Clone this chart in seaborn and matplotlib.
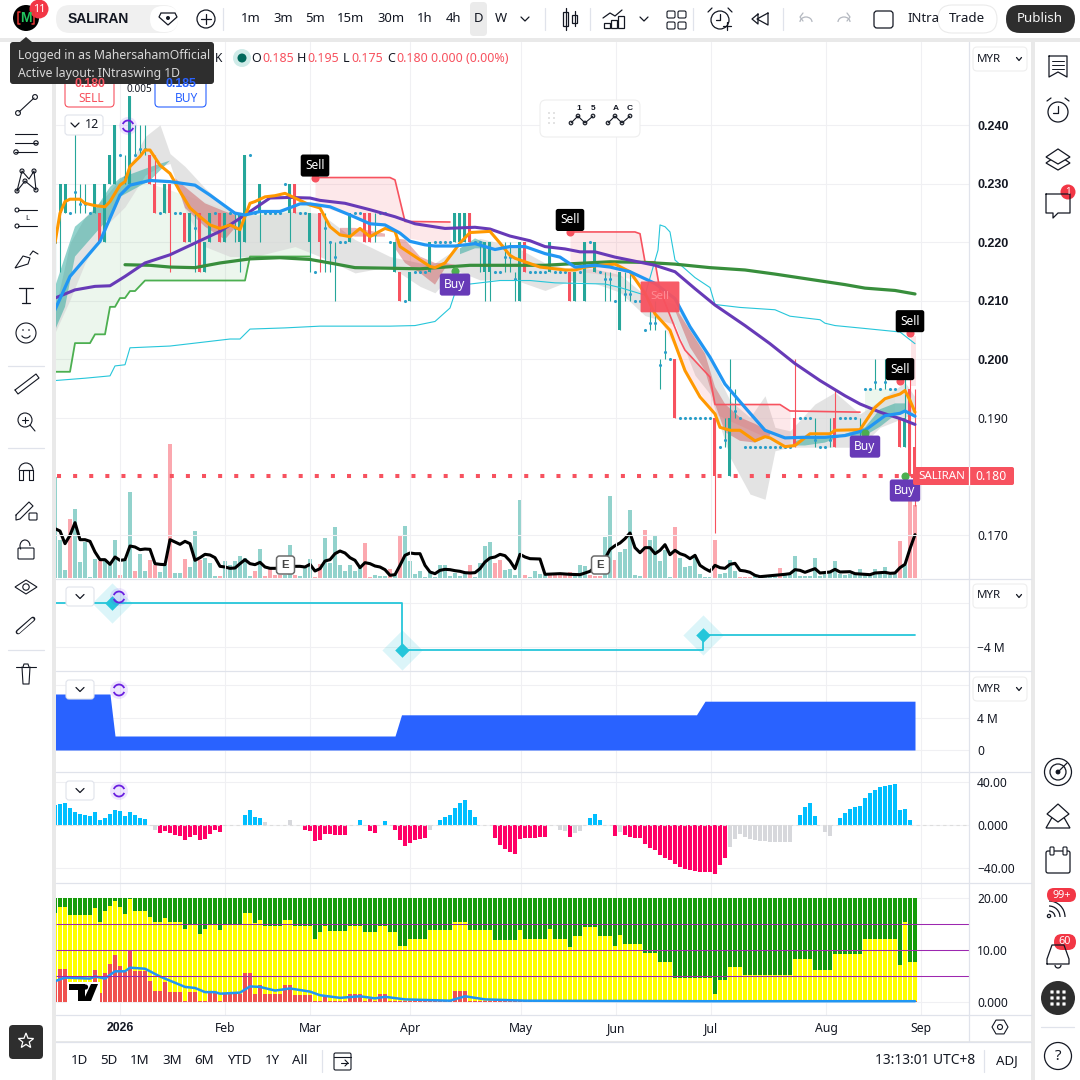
import numpy as np
import pandas as pd
import matplotlib
matplotlib.use("Agg")
import matplotlib.pyplot as plt
from matplotlib.patches import Circle, FancyBboxPatch, Arc, Polygon, Rectangle
import seaborn as sns

# ---- price bars, one entry per daily bar (0.. 172) ----
opens = [
    .22, .225, .225, .225, .2287, .2265, .2265, .225, .225, .225,
    .22, .23, .23, .235, .2312, .23, .235, .236, .236, .235,
    .23, .225, .225, .23, .225, .225, .225, .22, .2225, .225,
    .215, .22, .225, .225, .22, .225, .2225, .22, .22, .235,
    .225, .225, .225, .225, .225, .225, .23, .225, .23, .225,
    .225, .22, .215, .225, .2225, .22, .2175, .22, .22, .22,
    .225, .225, .225, .225, .2215, .225, .225, .22, .215, .215,
    .21, .21, .215, .215, .215, .215, .22, .22, .22, .22,
    .22, .22, .22, .225, .22, .22, .215, .215, .215, .215,
    .2175, .2175, .2137, .21, .22, .215, .215, .215, .215, .215,
    .215, .215, .215, .215, .21, .215, .21, .22, .215, .215,
    .2137, .2137, .21, .205, .2112, .2112, .21, .21, .205, .2062,
    .2062, .199, .2013, .20, .20, .19, .19, .19, .19, .19,
    .19, .19, .19, .185, .1862, .18, .1912, .19, .185, .185,
    .185, .185, .185, .185, .185, .185, .185, .185, .19, .19,
    .19, .19, .1862, .185, .185, .1862, .19, .19, .19, .19,
    .19, .1862, .195, .195, .1961, .195, .1961, .195, .195, .19, .185, .195, .185]
highs = [
    .225, .23, .23, .225, .2385, .23, .23, .225, .23, .225,
    .23, .235, .24, .235, .235, .245, .24, .24, .24, .235,
    .235, .225, .23, .23, .225, .225, .225, .225, .225, .225,
    .22, .225, .225, .225, .225, .225, .225, .225, .235, .235,
    .225, .23, .225, .225, .225, .225, .23, .23, .23, .225,
    .225, .225, .215, .225, .225, .22, .22, .22, .22, .225,
    .225, .225, .225, .225, .225, .225, .225, .22, .22, .215,
    .21, .215, .215, .215, .215, .22, .22, .22, .22, .22,
    .225, .225, .225, .225, .22, .22, .22, .22, .215, .215,
    .22, .22, .215, .22, .22, .215, .215, .215, .215, .22,
    .215, .215, .215, .215, .215, .215, .22, .22, .22, .215,
    .215, .215, .21, .215, .215, .215, .21, .21, .205, .21,
    .21, .20, .205, .20, .20, .19, .19, .19, .19, .19,
    .19, .19, .19, .185, .19, .20, .195, .19, .185, .185,
    .185, .185, .185, .185, .185, .185, .185, .185, .20, .19,
    .19, .19, .19, .185, .185, .19, .195, .19, .19, .19,
    .19, .19, .195, .195, .20, .195, .20, .195, .195, .19, .20, .20, .195]
lows = [
    .2065, .215, .225, .225, .225, .225, .225, .225, .225, .22,
    .22, .23, .23, .235, .23, .23, .235, .235, .235, .23,
    .225, .225, .225, .215, .225, .225, .22, .22, .215, .215,
    .215, .22, .225, .22, .22, .225, .22, .215, .22, .235,
    .225, .22, .225, .225, .225, .225, .23, .22, .225, .225,
    .225, .215, .215, .215, .215, .215, .21, .22, .22, .22,
    .225, .225, .22, .22, .22, .225, .225, .22, .215, .21,
    .21, .21, .215, .215, .215, .215, .22, .22, .22, .22,
    .22, .22, .22, .22, .22, .215, .21, .21, .215, .215,
    .215, .215, .21, .21, .215, .215, .215, .215, .215, .215,
    .215, .215, .215, .21, .21, .215, .21, .22, .215, .215,
    .21, .21, .21, .205, .21, .21, .21, .21, .205, .205,
    .205, .195, .20, .20, .19, .19, .19, .19, .19, .19,
    .19, .19, .1703, .185, .185, .18, .19, .19, .185, .185,
    .185, .185, .185, .185, .185, .185, .185, .185, .185, .19,
    .19, .19, .185, .185, .185, .185, .185, .19, .19, .19,
    .19, .185, .195, .195, .195, .195, .195, .195, .195, .185, .185, .18, .175]
closes = [
    .22, .23, .23, .225, .2287, .2265, .2265, .225, .23, .22,
    .23, .235, .24, .235, .2312, .245, .235, .236, .236, .23,
    .225, .225, .23, .225, .225, .225, .22, .225, .2225, .215,
    .22, .225, .225, .22, .225, .225, .2225, .225, .235, .235,
    .225, .23, .225, .225, .225, .225, .23, .23, .225, .225,
    .225, .225, .215, .22, .2225, .22, .2175, .22, .22, .225,
    .225, .225, .22, .22, .2215, .225, .225, .22, .22, .21,
    .21, .215, .215, .215, .215, .22, .22, .22, .22, .22,
    .225, .225, .225, .22, .22, .22, .22, .22, .215, .215,
    .2175, .2175, .2137, .22, .215, .215, .215, .215, .215, .22,
    .215, .215, .215, .21, .215, .215, .22, .22, .22, .215,
    .2137, .2137, .21, .215, .2112, .2112, .21, .21, .205, .2062,
    .2062, .199, .2013, .20, .19, .19, .19, .19, .19, .19,
    .19, .19, .18, .185, .1862, .19, .1912, .19, .185, .185,
    .185, .185, .185, .185, .185, .185, .185, .185, .185, .19,
    .19, .19, .1862, .185, .185, .1862, .185, .19, .19, .19,
    .19, .1862, .195, .195, .1961, .195, .1961, .195, .195, .185, .19, .18, .18]

# volume and its average (same arbitrary unit)
volume = [
    303, 113, 23, 178, 208, 47, 108, 3, 58, 51,
    55, 38, 113, 8, 53, 258, 20, 71, 20, 53,
    38, 17, 43, 401, 15, 15, 56, 33, 140, 53,
    60, 44, 5, 5, 50, 38, 50, 65, 60, 5,
    20, 86, 5, 28, 8, 8, 8, 98, 8, 5,
    33, 56, 2, 41, 119, 45, 152, 38, 20, 38,
    20, 30, 104, 2, 8, 5, 5, 26, 8, 125,
    155, 50, 11, 20, 2, 20, 2, 38, 38, 5,
    15, 5, 15, 38, 2, 44, 95, 107, 44, 53,
    23, 26, 10, 233, 8, 2, 20, 13, 10, 8,
    8, 8, 10, 17, 8, 38, 35, 8, 5, 5,
    122, 245, 53, 77, 86, 203, 8, 5, 143, 115,
    128, 50, 83, 2, 152, 59, 32, 35, 68, 13,
    2, 2, 113, 11, 14, 53, 20, 2, 2, 2,
    5, 2, 2, 2, 5, 29, 11, 8, 65, 5,
    5, 5, 60, 5, 11, 20, 50, 11, 8, 11,
    14, 26, 11, 11, 26, 11, 32, 8, 11, 110, 38, 263, 218]
# bars of the volume histogram that are red in the picture
volume_red = [3, 9, 13, 16, 19, 20, 23, 26, 29, 33, 40, 42, 43, 44, 45, 48, 52, 53, 62, 63, 67, 69, 83, 88, 89, 94, 99, 100, 101,
              102, 103, 107, 108, 109, 112, 118, 124, 132, 137, 138, 139, 145, 169, 171, 172]
vol_ma_bar = [0, 1, 2, 3, 4, 5, 6, 7, 8, 9, 10, 11, 12, 13, 14, 15, 16, 17, 18, 19, 20, 21, 22, 23, 24, 25, 26, 27, 28, 29,
              30, 31, 32, 33, 34, 35, 36, 37, 38, 39, 40, 41, 42, 43, 44, 48, 49, 50, 51, 52, 53, 54, 55, 56, 57, 58, 59,
              60, 61, 62, 63, 64, 65, 66, 67, 68, 69, 70, 71, 72, 73, 74, 75, 76, 77, 78, 79, 80, 81, 82, 83, 84, 85, 86,
              87, 88, 89, 90, 91, 92, 93, 94, 95, 97, 98, 101, 103, 105, 107, 110, 111, 112, 113, 114, 115, 116, 117, 118,
              119, 120, 121, 122, 123, 124, 125, 126, 127, 128, 129, 130, 131, 132, 133, 134, 135, 136, 137, 138, 139, 140,
              141, 146, 147, 148, 149, 150, 152, 153, 155, 156, 157, 159, 160, 163, 164, 166, 167, 168, 169, 170, 171, 172]
vol_ma = [148, 141, 103, 128, 166, 115, 115, 110, 78, 55, 55, 41, 63, 53, 55, 96, 93, 85, 87, 86, 43, 41, 40, 115, 108, 101, 110, 103, 53, 61,
          71, 69, 61, 35, 33, 29, 30, 43, 55, 43, 40, 47, 33, 29, 29, 35, 35, 33, 41, 21, 28, 51, 55, 73, 81, 75, 61, 53, 31, 46,
          43, 36, 33, 25, 8, 10, 38, 68, 75, 73, 73, 38, 18, 13, 23, 26, 25, 22, 20, 16, 15, 16, 28, 48, 60, 63, 71, 67, 51,
          28, 71, 63, 58, 57, 11, 13, 11, 10, 20, 58, 86, 97, 105, 118, 135, 91, 76, 91, 91, 73, 83, 100, 70, 83, 73, 68, 58,
          68, 38, 28, 20, 38, 31, 29, 41, 44, 23, 21, 17, 8, 4, 11, 13, 25, 23, 17, 28, 15, 18, 26, 18, 19, 13, 10, 15, 17, 14, 15, 31, 41, 88, 130]

# overlay lines, (bar, price) points
orange_bar = [0, 1, 2, 3, 5, 6, 8, 10, 11, 13, 14, 15, 17, 18, 19, 21, 23, 25, 27, 29, 31, 33, 35, 37, 39, 40, 42, 44, 46, 48, 51, 53, 55, 57, 59, 61, 63, 66, 68, 69, 72, 75, 76, 78, 81, 83, 87, 89, 91,
              92, 94, 97, 100, 102, 104, 106, 109, 112, 115, 118, 120, 123, 126, 129, 132, 133, 135, 137, 140, 142, 143, 146, 148, 151, 155, 156, 161, 164, 166, 169, 170, 171, 172]
orange = [.2199, .2250, .2270, .2274, .2274, .2267, .2263, .2261, .2270, .2298, .2304, .2330, .2347, .2358, .2358, .2332, .2318, .2287, .2259, .2244, .2230, .2224, .2230, .2222, .2267, .2270, .2278, .2280, .2284, .2276, .2264, .2259, .2227, .2213, .2210, .2224, .2210, .2224, .2219, .2193, .2176, .2159, .2157, .2165, .2199, .2217, .2219, .2199, .2178,
          .2173, .2167, .2158, .2155, .2153, .2153, .2158, .2161, .2163, .2150, .2113, .2078, .2050, .1981, .1936, .1907, .1884, .1879, .1879, .1861, .1868, .1866, .1851, .1853, .1873, .1873, .1879, .1880, .1918, .1933, .1941, .1947, .1930, .1910]
blue_bar = [0, 3, 9, 13, 15, 19, 23, 28, 31, 36, 38, 41, 45, 49, 51, 55, 59, 63, 66, 69, 71, 74, 76, 80, 84, 88, 91, 94, 98, 101, 104, 108, 111, 115, 120, 124, 127, 131, 134, 138, 142, 146, 150, 154, 158, 162, 166, 169, 170, 172]
blue = [.2085, .2142, .2202, .2281, .2298, .2306, .2304, .2298, .2281, .2250, .2247, .2253, .2253, .2266, .2266, .2261, .2247, .2232, .2230, .2216, .2202, .2196, .2194, .2194, .2198, .2188, .2193, .2193, .2181, .2175, .2158, .2161, .2158, .2150, .2130, .2104, .2056, .2004, .1958, .1918, .1879, .1866, .1867, .1867, .1870, .1879, .1904, .1908, .1912, .1903]
purple_bar = [0, 4, 8, 11, 14, 18, 23, 28, 33, 38, 43, 47, 51, 53, 58, 63, 68, 72, 78, 84, 87, 91, 95, 98, 102, 105, 108, 112, 116, 120, 124, 128, 132, 138, 143, 148, 153, 158, 161, 165, 169, 172]
purple = [.2105, .2119, .2125, .2126, .2142, .2165, .2179, .2199, .2219, .2247, .2276, .2277, .2276, .2272, .2267, .2256, .2244, .2232, .2224, .2226, .2223, .2211, .2203, .2193, .2189, .2184, .2184, .2175, .2168, .2161, .2150, .2121, .2093, .2058, .2027, .1993, .1964, .1938, .1924, .1910, .1899, .1889]
ma200_bar = [14, 19, 23, 28, 33, 39, 45, 51, 55, 60, 67, 73, 83, 91, 98, 104, 111, 118, 124, 131, 138, 144, 151, 158, 162, 168, 172]
ma200 = [.2162, .2161, .2158, .2157, .2165, .2172, .2174, .2171, .2165, .2157, .2156, .2155, .2161, .2161, .2161, .2164, .2167, .2166, .2163, .2157, .2153, .2146, .2137, .2128, .2122, .2118, .2112]
band_bar = [0, 6, 11, 12, 14, 15, 23, 25, 35, 37, 39, 46, 53, 67, 72, 76, 79, 80, 83, 89, 95, 100, 110, 113, 118, 120.6, 121, 122, 123, 124, 128, 131, 132, 137, 144, 147, 153, 154, 156, 162, 169, 172]
band = [.1964, .1968, .1972, .1989, .1991, .2020, .2023, .2025, .2035, .2035, .2052, .2054, .2057, .2057, .2058, .2065, .2088, .2114, .2129, .2135, .2135, .2131, .2129, .2123, .2110, .2187, .2230, .2227, .2218, .2170, .2140, .2123, .2094, .2089, .2085, .2074, .2068, .2062, .2058, .2053, .2047, .2027]
stop_bar = [0, 3, 4, 7, 8, 10, 11, 12, 13, 14, 15, 16, 18, 38, 39, 51]
stop = [.1979, .1979, .2028, .2028, .2043, .2043, .2090, .2090, .2105, .2105, .2117, .2117, .2135, .2135, .2176, .2176]
trail1_bar = [52, 67, 68, 70, 79]
trail1 = [.2311, .2311, .2307, .2236, .2235]
trail2_bar = [103, 116, 117, 118, 120, 121, 125, 126, 131, 132, 145, 147, 161]
trail2 = [.2218, .2218, .2215, .2167, .2167, .2118, .2033, .2016, .1970, .1923, .1923, .1912, .1910]

# clouds, nan splits one patch from the next
grey_bar = [0, 3, 6, 10, 14, 18, 21, 23, 26, 30, 35, 40, 48, 53, 60, 67, 73, 76, 80, 85, 92, 98, 103, 108, 113, 118, 124, 128, 131, 135, 139, 142, 144, 147, 152, 156, 161, 165, 170, 172]
grey_top = [.2085, .2199, .2244, .2278, .2318, .2381, .2401, .2352, .2330, .2293, .2256, .2247, .2253, .2250, .2205, .2176, .2165, .2165, .2188, .2207, .2193, .2165, .2155, .2155, .2145, .2110, .2095, .2041, .2000, .1930, .1901, .1938, .1884, .1878, .1924, .1944, .1907, .1930, .1961, .1936]
grey_bot = [.2046, .2102, .2165, .2227, .2261, .2315, .2330, .2335, .2256, .2193, .2176, .2176, .2193, .2176, .2148, .2159, .2125, .2114, .2153, .2136, .2136, .2118, .2135, .2130, .2115, .2075, .2060, .1973, .1941, .1833, .1770, .1761, .1844, .1850, .1850, .1850, .1850, .1884, .1901, .1907]
teal_bar = [0, 2, 4, 8, 11, 13, 19, 23, np.nan, 81, 84, 86, np.nan, 148, 150, 154, 157, 162, 165, 168, 170]
teal_top = [.2124, .2176, .2227, .2256, .2295, .2310, .2329, .2340, np.nan, .2190, .2207, .2200, np.nan, .1860, .1867, .1867, .1870, .1884, .1915, .1925, .1925]
teal_bot = [.2050, .2090, .2176, .2215, .2244, .2278, .2306, .2340, np.nan, .2180, .2190, .2190, np.nan, .1853, .1853, .1858, .1868, .1870, .1885, .1905, .1912]
rose_bar = [24, 26, 30, 34, 36, np.nan, 57, 60, 66, np.nan, 68, 70, 73, 76, 78, 80, np.nan, 124, 127, 130, 132, 134, 137, 140, 143]
rose_top = [.2310, .2295, .2267, .2253, .2247, np.nan, .2225, .2225, .2215, np.nan, .2207, .2205, .2176, .2165, .2165, .2162, np.nan, .2090, .2050, .2010, .1953, .1924, .1901, .1890, .1876]
rose_bot = [.2310, .2259, .2227, .2205, .2225, np.nan, .2213, .2210, .2210, np.nan, .2190, .2165, .2148, .2128, .2156, .2162, np.nan, .2084, .2021, .1981, .1924, .1876, .1861, .1858, .1870]

sell_bar = [52, 103, 171, 169]
sell_price = [.2311, .2218, .2045, .1963]
buy_bar = [80, 162, 170]
buy_price = [.2152, .1875, .1800]
earnings_bar = [46, 109]
last_price = 0.180

# lower panes
flow_bar = [0, 69.4, 129.7, 172]
flow = [-0.25, -4.25, -3.0, -3.0]
flow_marks = [11.4, 69.4, 129.7]
flow_mark_vals = [-0.25, -4.25, -3.0]
area_bar = [0, 11, 12, 68, 69.3, 128.3, 130, 172]
area = [7.0, 7.0, 1.75, 1.75, 4.4, 4.4, 6.1, 6.1]

momentum = [
    18.6, 20, 20.8, 16, 12.4, 10.5, 9.3, 8.7, 12.4, 5,
    6.8, 10.5, 14.3, 13.3, 8.7, 12.4, 9.6, 6.8, 5.9, 0,
    -4.5, -7, -5.3, -7, -9, -10, -13.6, -10.9, -9, -13.6,
    -12.7, -8, -4.3, -6.2, 0, 0, 0, 0, 9.6, 14.3,
    7.8, 6.8, 3, 0, 0, 0, 0, 5, 0, 0,
    -4.3, -5.3, -14.6, -13.6, -8, -8, -9, -9, -9, 0,
    0, 5, 0, -5.3, -7, 0, 4, 0, -4.3, -13.6,
    -19.2, -16.4, -13.6, -12.7, -11.8, -4.3, 0, 5, 7.8, 9.6,
    16, 20.8, 23.6, 14.3, 7.8, 0, 0, 0, -11.8, -18.3,
    -22, -24.8, -26.7, -12.7, -12.4, -12.4, -11.8, -11.5, -11.5, 0,
    0, -5, -5.9, -11.5, -7.8, -5.9, 0, 7, 9.9, 4.3,
    0, 0, -10.5, -6.8, -9.6, -11.5, -12.4, -12.4, -18, -21.7,
    -23.6, -28.2, -31, -32.9, -36.6, -39.4, -41.2, -42.2, -42.8, -44,
    -44, -44, -45.9, -37.5, -31, -20.8, -13.3, -8.7, -11.5, -13.3,
    -14.3, -15.2, -15.2, -16, -16, -16, -16, -16, 0, 9,
    16.4, 20.2, 8, 0, -6.8, -10.5, 0, 7, 10.9, 14.6,
    16.4, 17.4, 24.8, 29.5, 32.2, 35, 36, 36.9, 37.8, 13.6, 14.6, 4.3, 0]
momentum_grey = [20, 42, 47, 75, 101, 102, 104, 105, 113, 135, 136, 137, 138, 139, 140, 141, 142, 143, 144, 145, 146, 147, 154, 155]

yellow_level = [
    17.2, 18.2, 18.2, 16.8, 16.8, 16.8, 16.8, 16.8, 18, 15.4,
    17.5, 18.4, 19.4, 18.3, 17, 19.8, 17.5, 17.5, 17.5, 16.4,
    15.3, 15.3, 16.2, 15.3, 15.3, 15.3, 14.1, 14.9, 14.9, 13,
    14.1, 14.9, 14.9, 13.9, 14.9, 14.9, 14.9, 14.9, 17.1, 17.1,
    15.1, 15.8, 14.7, 14.7, 14.7, 14.7, 15.8, 15.8, 14.7, 14.7,
    14.7, 14.7, 12.2, 13.4, 14.7, 13.6, 13.6, 13.6, 13.6, 14.7,
    14.7, 14.7, 13.4, 13.4, 13.4, 14.7, 14.7, 13.4, 13.4, 10.7,
    10.7, 12.2, 12.2, 12.2, 12.2, 13.8, 13.8, 13.8, 13.8, 13.8,
    15.3, 15.3, 15.3, 13.8, 13.8, 13.8, 13.8, 13.8, 12, 12,
    12, 12, 12, 13.9, 12.2, 12.2, 12.2, 12.2, 12.2, 14.1,
    12.2, 12.2, 12.2, 10.5, 12.6, 12.6, 14.5, 14.5, 14.5, 12.6,
    12.6, 12.6, 10.7, 12.8, 11.1, 11.1, 11.1, 11.1, 9.4, 9.4,
    9.4, 7.7, 7.7, 7.7, 4.7, 4.7, 4.7, 4.7, 4.7, 4.7,
    4.7, 4.7, 1.6, 4.3, 4.3, 6.7, 6.7, 6.7, 5.2, 5.2,
    5.2, 5.2, 5.2, 5.2, 5.2, 5.2, 5.2, 5.2, 8.2, 8.2,
    8.2, 8.2, 6.2, 6.2, 6.2, 6.2, 9.2, 9.2, 9.2, 9.2,
    9.2, 9.2, 12.2, 12.2, 12.2, 12.2, 12.2, 12.2, 12.2, 7.1, 15.3, 7.7, 7.7]
red_level = [
    4, 6.4, 6.4, 2.7, 2.7, 2.7, 2.7, 2.7, 6.2, 1.8,
    5.6, 7.3, 9, 6.9, 5.8, 10, 6, 6, 6, 4.1,
    2.2, 2.2, 3.9, 2, 2, 2, .1, 2, 2, .1,
    .1, 1.8, 1.8, .1, 1.5, 1.6, 1.6, 1.6, 5.6, 5.6,
    1.6, 3.3, 1.5, 1.5, 1.5, 1.5, 3.3, 3.3, 1.3, 1.3,
    1.3, 1.3, .1, .1, 1.3, .1, .1, .1, .1, 1.5,
    1.5, 1.5, .1, .5, .1, 1.5, 1.5, .1, .1, .1,
    .1, .1, .1, .1, .1, .1, .1, .1, .1, .1,
    2.2, 2.2, 2.2, .1, .1, .1, .1, .1, .1, .1] + [.1] * 83
trend_bar = [0, 2, 7, 8, 10, 12, 14, 15, 18, 21, 23, 26, 28, 30, 32, 33, 37, 39, 41, 44, 47, 51, 53, 57, 61, 64, 66, 70, 79, 82, 86, 94, 130, 172]
trend = [4, 4.7, 4.5, 4.9, 4.5, 5.9, 5.9, 6.6, 6.4, 4.9, 4.1, 2.9, 2.7, 1.9, 1.9, 1.6, 1.8, 3, 2.9, 2.2, 2.6, 2, 1.3, .8, 1.1, .7, 1, .5, .25, 1.1, .5, .25, .15, .15]

month_bar = [13.1, 34.1, 51.1, 71.1, 93.2, 112.2, 131.2, 154.2, 173.2]
month_label = ["2026", "Feb", "Mar", "Apr", "May", "Jun", "Jul", "Aug", "Sep"]
price_ticks = [.17, .19, .20, .21, .22, .23, .24]

INK = "#131722"
GRID = "#f0f0f3"
UP = "#26a69a"
DOWN = "#f7525f"
BOLD_FONT = "Liberation Sans"  # the Noto Sans install has no separate bold face
BARS = np.arange(173)

sns.set_theme(style="white")
plt.rcParams["font.family"] = ["Noto Sans", "DejaVu Sans"]

fig = plt.figure(figsize=(10.8, 10.8), dpi=100, facecolor="#e9e9e9")


def pane(y0, y1, z=2):
    # pane rectangle given in picture pixels
    return fig.add_axes([56 / 1080, 1 - y1 / 1080, 913 / 1080, (y1 - y0) / 1080], zorder=z)


def bars(ax, x, y, colors, width):
    df = pd.DataFrame({"bar": x, "value": y, "kind": colors})
    sns.barplot(data=df, x="bar", y="value", hue="kind", palette={c: c for c in set(colors)},
                native_scale=True, dodge=False, legend=False, width=width, saturation=1,
                errorbar=None, linewidth=0, ax=ax)


def line(ax, x, y, color, lw, z=3):
    sns.lineplot(x=x, y=y, color=color, linewidth=lw, estimator=None, sort=False, ax=ax, zorder=z)


def finish(ax, ylim, ticks=(), labels=None):
    ax.set_xlim(0.2, 182.8)
    ax.set_ylim(*ylim)
    ax.set_xlabel("")
    ax.set_ylabel("")
    ax.set_xticks(month_bar)
    ax.set_xticklabels([])
    ax.yaxis.tick_right()
    ax.set_yticks(list(ticks))
    if labels is not None:
        ax.set_yticklabels(labels)
    ax.tick_params(length=0, pad=5.9, labelsize=8.6, labelcolor=INK)
    ax.grid(True, color=GRID, lw=0.8)
    ax.set_axisbelow(True)
    for s in ax.spines.values():
        s.set_visible(False)


# white page behind the panes
bg = fig.add_axes([0, 0, 1, 1], zorder=0)
bg.set_xlim(0, 1080)
bg.set_ylim(1080, 0)
bg.axis("off")
for x0, y0, x1, y1 in [(0, 0, 1080, 38), (0, 42, 52, 1080), (56, 42, 1031, 1041), (56, 1043, 1031, 1080), (1035, 42, 1080, 1080)]:
    bg.add_patch(Rectangle((x0, y0), x1 - x0, y1 - y0, fc="white", ec="none"))

# ---- volume under the price pane ----
vol_ax = pane(42, 578, z=1)
vol_colors = ["#fba8af" if i in volume_red else "#92d2cc" for i in BARS]
bars(vol_ax, BARS, volume, vol_colors, 0.74)
line(vol_ax, vol_ma_bar, vol_ma, "#000000", 2.2)
finish(vol_ax, (0, 536 * 3))
vol_ax.grid(False)
vol_ax.set_yticks([])

# ---- price pane ----
ax = pane(42, 578, z=2)
ax.patch.set_visible(False)

blue_at = np.interp(stop_bar, blue_bar, blue)
ax.fill_between(stop_bar, stop, blue_at, color="#4caf50", alpha=0.10, lw=0, zorder=1)
ax.fill_between([162, 168], [.195, .195], [.1905, .1905], color="#4caf50", alpha=0.10, lw=0, zorder=1)
ax.fill_between(grey_bar, grey_top, grey_bot, color="#d9d9d9", alpha=0.72, lw=0, zorder=1.1)
ax.fill_between(trail1_bar, trail1, np.interp(trail1_bar, blue_bar, blue), color=DOWN, alpha=0.13, lw=0, zorder=1.2)
pink_x = [103, 116, 117, 118, 120, 121, 125, 126, 131, 132, 145, 147]
ax.fill_between(pink_x, np.interp(pink_x, trail2_bar, trail2), np.interp(pink_x, orange_bar, orange), color=DOWN, alpha=0.13, lw=0, zorder=1.2)
ax.fill_between([171.2, 172.3], [.2040, .2040], [.1955, .1955], color=DOWN, alpha=0.15, lw=0, zorder=1.2)
ax.fill_between(teal_bar, teal_top, teal_bot, color=UP, alpha=0.5, lw=0, zorder=1.3)
ax.fill_between(rose_bar, rose_top, rose_bot, color="#c8383c", alpha=0.38, lw=0, zorder=1.3)

ax.hlines(last_price, 0.3, 172, color=DOWN, lw=2.9, linestyles=[(0, (1, 3))], zorder=2.9)

o, h, l, c = map(np.array, (opens, highs, lows, closes))
rising = c >= o
ax.vlines(BARS, l, h, color=np.where(rising, UP, DOWN), lw=0.8, zorder=2)
solid = o != c
ax.bar(BARS[solid], np.abs(c - o)[solid], bottom=np.minimum(o, c)[solid], width=0.6,
       color=np.where(rising, UP, DOWN)[solid], lw=0, zorder=2.1)
ax.scatter(BARS[~solid], c[~solid], s=5, color="#2a9fc9", lw=0, zorder=2.2)

line(ax, band_bar, band, "#26c6da", 0.8, z=2.5)
line(ax, stop_bar, stop, "#4caf50", 1.3, z=2.6)
line(ax, trail1_bar, trail1, DOWN, 1.2, z=2.6)
line(ax, trail2_bar, trail2, DOWN, 1.2, z=2.6)
line(ax, ma200_bar, ma200, "#388e3c", 2.3, z=3)
line(ax, purple_bar, purple, "#673ab7", 2.2, z=3.1)
line(ax, orange_bar, orange, "#ff9800", 2.2, z=3.2)
line(ax, blue_bar, blue, "#2196f3", 2.3, z=3.3)

ax.scatter(sell_bar, sell_price, s=34, color=DOWN, lw=0, zorder=4)
ax.scatter(buy_bar, buy_price, s=34, color="#4caf50", lw=0, zorder=4)
for bx, py in zip(sell_bar, sell_price):
    ax.annotate("Sell", (bx, py), xytext=(0, 12), textcoords="offset pixels", ha="center", va="center", color="white",
                fontsize=8.6, zorder=5, annotation_clip=False,
                bbox=dict(boxstyle="round,pad=0.38,rounding_size=0.2", fc="black", ec="none"))
for bx, py in zip(buy_bar, buy_price):
    ax.annotate("Buy", (bx, py), xytext=(0, -14), textcoords="offset pixels", ha="center", va="center", color="white",
                fontsize=8.6, zorder=5, annotation_clip=False,
                bbox=dict(boxstyle="round,pad=0.38,rounding_size=0.2", fc="#673ab7", ec="none"))
ax.annotate("Sell", (121, .2107), ha="center", va="center", color="#ff8b93", fontsize=8.4, zorder=5,
            bbox=dict(boxstyle="round,pad=0.85,rounding_size=0.1", fc=DOWN, ec="none", alpha=0.95))

finish(ax, (.16265, .25427), price_ticks, [f"{p:.3f}" for p in price_ticks])
for tick, p in zip(ax.yaxis.get_major_ticks(), price_ticks):
    if p >= .2:
        tick.label2.set_fontfamily(BOLD_FONT)
        tick.label2.set_fontweight("bold")
        tick.label2.set_fontsize(9)

# ---- flow pane ----
ax2 = pane(580, 671)
sns.lineplot(x=flow_bar, y=flow, color="#26c6da", linewidth=1.3, drawstyle="steps-post", estimator=None, ax=ax2)
ax2.scatter(flow_marks, flow_mark_vals, s=420, marker="D", color="#26c6da", alpha=0.16, lw=0, zorder=3)
ax2.scatter(flow_marks, flow_mark_vals, s=55, marker="D", color="#26c6da", lw=0, zorder=4)
finish(ax2, (-6.04, 1.70), [-4, -0.25], ["\u22124 M", ""])

# ---- blue area pane ----
ax4 = pane(672, 772)
ax4.fill_between(area_bar, 0, area, color="#2962ff", lw=0, zorder=3)
finish(ax4, (-2.75, 9.75), [0, 4, 8.1], ["0", "4 M", ""])

# ---- momentum pane ----
ax5 = pane(773, 883)
mom_colors = ["#d7d8dc" if i in momentum_grey else ("#00bfff" if v > 0 else "#ff0066") for i, v in enumerate(momentum)]
bars(ax5, BARS, momentum, mom_colors, 0.8)
ax5.hlines(0, 0.2, 182.8, color="#dddddd", lw=0.8, linestyles=[(0, (3, 3))], zorder=1)
finish(ax5, (-53.9, 48.4), [-40, 0, 40], ["\u221240.00", "0.000", "40.00"])

# ---- stacked strength pane ----
ax6 = pane(884, 1015)
bars(ax6, BARS, [20] * 173, ["#169c0a"] * 173, 0.8)
bars(ax6, BARS, yellow_level, ["#ffff00"] * 173, 0.8)
bars(ax6, BARS, red_level, ["#f0524f"] * 173, 0.8)
line(ax6, trend_bar, trend, "#2196f3", 1.8)
ax6.hlines([5, 10, 15], 0.2, 182.8, color="#9c27b0", lw=0.75, zorder=4)
finish(ax6, (-2.5, 22.69), [0, 10, 20], ["0.000", "10.00", "20.00"])
ax6.set_xticklabels(month_label)
ax6.tick_params(axis="x", pad=5, labelsize=8.8, labelbottom=True)
first_month = ax6.xaxis.get_major_ticks()[0].label1
first_month.set_fontfamily(BOLD_FONT)
first_month.set_fontweight("bold")

# ---- interface chrome, in picture pixels ----
ov = fig.add_axes([0, 0, 1, 1], zorder=6)
ov.set_xlim(0, 1080)
ov.set_ylim(1080, 0)
ov.axis("off")


def t(x, y, s, size=9.4, color=INK, ha="left", weight="normal", **kw):
    if weight == "bold":
        kw["family"] = BOLD_FONT
    ov.text(x, y, s, fontsize=size, color=color, ha=ha, va="center", fontweight=weight, **kw)


def seg(xs, ys, color=INK, lw=0.9):
    ov.plot(xs, ys, color=color, lw=lw, solid_capstyle="round", solid_joinstyle="round")


def circ(x, y, r, fc="none", ec=INK, lw=0.9, alpha=None):
    ov.add_patch(Circle((x, y), r, fc=fc, ec=ec, lw=lw, alpha=alpha))


def box(x0, y0, x1, y1, r=3, fc="white", ec="none", lw=0.8):
    ov.add_patch(FancyBboxPatch((x0 + r, y0 + r), x1 - x0 - 2 * r, y1 - y0 - 2 * r,
                                boxstyle=f"round,pad={r},rounding_size={r}", fc=fc, ec=ec, lw=lw))


def chevron(x, y, w=4, h=2, color=INK):
    seg([x - w, x, x + w], [y - h, y + h, y - h], color=color)


def sync(x, y):
    circ(x, y, 9, fc="#7b2ff7", ec="none", alpha=0.12)
    ov.add_patch(Arc((x, y), 11, 11, theta1=200, theta2=340, ec="#6a1fe0", lw=1.3))
    ov.add_patch(Arc((x, y), 11, 11, theta1=20, theta2=160, ec="#6a1fe0", lw=1.3))


# pane separators and price-scale rule
for y in (579, 671, 772, 883, 1015):
    seg([56, 1031], [y, y], color="#e0e3eb", lw=0.9)
seg([969, 969], [42, 1041], color="#e0e3eb", lw=0.9)
seg([56, 1031], [1041.5, 1041.5], color="#e0e3eb", lw=0.9)

# top bar
circ(26, 18, 13, fc="black", ec="none")
t(26, 18, "M", 10, "#22c55e", "center", "bold")
seg([20, 18, 18, 20], [12, 12, 24, 24], color="#e53935", lw=1.1)
seg([32, 34, 34, 32], [12, 12, 24, 24], color="#e53935", lw=1.1)
circ(39, 9, 9.5, fc="#f23645", ec="none")
t(39, 9, "11", 7.8, "white", "center")
box(56, 5, 178, 33, r=14, fc="#f0f0f0")
t(68, 19, "SALIRAN", 10, INK, weight="bold")
box(150, 6, 178, 32, r=13, fc="white")
ov.add_patch(Polygon([(161, 13), (175, 13), (177, 17), (168, 25), (159, 17)], closed=True, fc="white", ec=INK, lw=0.9))
circ(168, 18, 2, fc=INK, ec="none")
circ(206, 19, 9)
seg([201, 211], [19, 19])
seg([206, 206], [14, 24])
for x in (223, 545, 590, 693, 783):
    seg([x, x], [8, 30], color="#e0e3eb")
for x, s in zip((251, 283, 315, 351, 391, 425, 453, 501), ("1m", "3m", "5m", "15m", "30m", "1h", "4h", "W")):
    t(x, 19, s, 9.4, ha="center")
box(470, 2, 487, 36, r=4, fc="#ebebeb")
t(478.5, 19, "D", 9.4, ha="center")
chevron(525, 19)
# candle icon
ov.add_patch(Rectangle((563, 12), 5, 14, fc="white", ec=INK, lw=0.9))
seg([565.5, 565.5], [8, 30])
ov.add_patch(Rectangle((572, 15), 5, 8, fc="white", ec=INK, lw=0.9))
seg([574.5, 574.5], [11, 26])
# indicator icon
seg([603, 610, 615, 622], [18, 13, 16, 10])
for x, hh in ((604, 5), (611, 8), (618, 12)):
    ov.add_patch(Rectangle((x, 28 - hh), 6, hh, fc="white", ec=INK, lw=0.9))
chevron(644, 19)
for x in (667, 678):
    for y in (11, 22):
        box(x, y, x + 8, y + 7, r=1.5, ec=INK)
circ(720, 20, 9)
seg([720, 720, 716], [14, 20, 20])
seg([727, 727], [22, 30])
seg([723, 731], [26, 26])
seg([712, 708], [8, 12])
seg([728, 732], [8, 12])
seg([768, 757, 768, 768], [13, 19, 25, 13])
seg([758, 752, 758, 758], [14, 19, 24, 14])
ov.add_patch(Arc((806, 22), 12, 10, theta1=180, theta2=360, ec="#b4b8c0", lw=0.9))
seg([803, 800, 803], [13, 17, 21], color="#b4b8c0")
ov.add_patch(Arc((844, 22), 12, 10, theta1=180, theta2=360, ec="#b4b8c0", lw=0.9))
seg([847, 850, 847], [13, 17, 21], color="#b4b8c0")
box(874, 11, 893, 28, r=3, ec=INK, lw=0.9)
t(907, 19, "INtra", 9.4)
box(930, 0, 938, 38, r=0, fc="white")
box(938, 5, 997, 33, r=14, fc="white", ec="#ebebeb")
t(967, 19, "Trade", 9.6, ha="center")
box(1006, 5, 1075, 33, r=14, fc="#2e2e2e")
t(1040, 19, "Publish", 9.6, "#f5f5f5", ha="center")

# legend row and order buttons (tooltip covers their top)
t(219, 58, "K", 8.6, INK, "center")
circ(242, 58, 9, fc="#26a69a", ec="none", alpha=0.22)
circ(242, 58, 4.5, fc="#00695c", ec="none")
for x, s, col in [(251, "O", INK), (262, "0.185", DOWN), (297, "H", INK), (307, "0.195", DOWN), (343, "L", INK), (351, "0.175", DOWN),
                  (387, "C", INK), (396, "0.180", DOWN), (431, "0.000 (0.00%)", DOWN)]:
    t(x, 58, s, 9, col)
box(65, 72, 114, 107, r=4, ec=DOWN, lw=0.8)
t(90, 84, "0.180", 8.8, DOWN, "center", "bold")
t(91, 98, "SELL", 8.6, DOWN, "center")
box(155, 72, 206, 107, r=4, ec="#2962ff", lw=0.8)
t(181, 84, "0.185", 8.8, "#2962ff", "center", "bold")
t(186, 98, "BUY", 8.6, "#2962ff", "center")
t(139, 90, "0.005", 7.2, INK, "center")
ov.add_patch(Polygon([(20, 42), (26, 37), (32, 42)], closed=True, fc="#2e2e2e", ec="none"))
box(10, 42, 214, 84, r=3, fc="#2e2e2e")
t(18, 55, "Logged in as MahersahamOfficial", 8.8, "#d8d8d8")
t(18, 73, "Active layout: INtraswing 1D", 8.8, "#d8d8d8")

# pane controls
box(65, 115, 103, 135, r=3, ec="#e0e3eb", fc="#ffffff")
chevron(75, 125)
t(92, 125, "12", 9, ha="center")
sync(128, 126)
for yy in (597, 690, 791):
    box(66, yy - 10, 94, yy + 10 - 1, r=3, ec="#e0e3eb")
    chevron(80, yy - 0.5)
    sync(119, yy)
for yy in (59, 596, 689):
    box(973, yy - 12, 1027, yy + 12, r=4, ec="#eeeeee")
    t(977, yy, "MYR", 8.3)
    chevron(1019, yy, 2.5, 1.5)
# wave widget
box(540, 100, 640, 137, r=6, fc="white", ec="#eeeeee")
for dx in (0, 5):
    for dy in (0, 5, 10):
        circ(549 + dx, 113 + dy, 0.8, fc="#c8c8c8", ec="none")
for x0, a, b in ((570, "1", "5"), (607, "A", "C")):
    seg([x0 + 1, x0 + 8, x0 + 15, x0 + 23], [123, 116, 123, 116], lw=0.8)
    for dx, dy in ((1, 123), (8, 116), (15, 123), (23, 116)):
        circ(x0 + dx, dy, 1.8, fc="white", lw=0.8)
    t(x0 + 9, 109, a, 6, ha="center", weight="bold")
    t(x0 + 23, 109, b, 6, ha="center", weight="bold")

# earnings badges
for bx in earnings_bar:
    px = 55.5 + 5 * bx
    box(px - 9, 556, px + 9, 574, r=3, fc="white", ec="#6b6b6b", lw=1.1)
    t(px, 565, "E", 8.2, "#444444", "center", "bold")

# last price tag
box(913, 467, 1014, 485, r=2, fc=DOWN)
seg([969, 969], [467, 485], color="white", lw=0.8)
t(918, 476.5, "SALIRAN", 8.3, "white")
t(991, 476.5, "0.180", 8.8, "white", "center")

# TradingView watermark
ov.add_patch(Rectangle((67, 982), 33, 21, fc="white", ec="none"))
ov.add_patch(Polygon([(69, 984), (85, 984), (85, 1001), (78, 1001), (78, 990), (69, 990)], closed=True, fc="black", ec="none"))
circ(85.5, 987, 2.6, fc="black", ec="none")
ov.add_patch(Polygon([(91, 984), (98, 984), (91, 1001), (83, 1001)], closed=True, fc="black", ec="none"))

# left drawing tools
seg([19, 34], [112, 98], lw=0.8)
circ(18, 113, 2.4, fc="white", lw=0.8)
circ(35, 97, 2.4, fc="white", lw=0.8)
for yy in (134, 143, 152):
    seg([15, 37], [yy, yy], lw=0.8)
circ(36, 143, 2.2, fc="white", lw=0.8)
circ(16, 152, 2.2, fc="white", lw=0.8)
seg([17, 22, 29, 34, 36, 25, 17], [191, 171, 179, 171, 190, 181, 191], lw=0.8)
for px, py in ((17, 191), (22, 171), (34, 171), (36, 190), (25, 181)):
    circ(px, py, 2, fc="white", lw=0.8)
seg([18, 37], [210, 210], lw=0.8)
seg([18, 37], [226, 226], lw=0.8)
circ(17, 210, 2, fc="white", lw=0.8)
circ(17, 226, 2, fc="white", lw=0.8)
t(27, 218, "L", 5.5, ha="center")
ov.add_patch(Polygon([(15, 268), (23, 256), (30, 258), (28, 264)], closed=True, fc="white", ec=INK, lw=0.8))
seg([30, 33, 38], [255, 251, 254], lw=0.8)
seg([19, 33], [288, 288], lw=0.9)
seg([26, 26], [288, 303], lw=0.9)
seg([22, 30], [303, 303], lw=0.9)
circ(26, 333, 10, lw=0.8)
circ(23, 330, 0.8, fc=INK, ec="none")
circ(29, 330, 0.8, fc=INK, ec="none")
ov.add_patch(Arc((26, 333), 10, 10, theta1=30, theta2=150, ec=INK, lw=0.8))
seg([8, 44], [366, 366], color="#e0e3eb")
seg([15, 36, 39, 18, 15], [390, 374, 378, 394, 390], lw=0.8)
circ(25, 420, 7, lw=0.8)
seg([22, 28], [420, 420], lw=0.8)
seg([25, 25], [417, 423], lw=0.8)
seg([30, 35], [425, 431], lw=0.8)
seg([8, 44], [448, 448], color="#e0e3eb")
seg([19, 19, 33, 33, 29, 29, 23, 23, 19], [480, 470, 470, 480, 480, 470, 470, 480, 480], lw=0.8)
ov.add_patch(Arc((26, 470), 14, 14, theta1=180, theta2=360, ec=INK, lw=0.8))
seg([16, 29, 33, 20, 16, 16], [515, 502, 506, 519, 520, 515], lw=0.8)
box(29, 513, 37, 520, r=1, ec=INK)
box(18, 548, 34, 559, r=1, ec=INK)
ov.add_patch(Arc((25, 546), 10, 12, theta1=140, theta2=360, ec=INK, lw=0.8))
ov.add_patch(Polygon([(15, 587), (26, 580), (37, 587), (26, 594)], closed=True, fc="white", ec=INK, lw=0.8))
circ(26, 587, 3.2, lw=0.8)
seg([18, 33], [632, 619], lw=3.4)
seg([18.5, 32.5], [632, 619.5], color="white", lw=2)
seg([8, 44], [650, 650], color="#e0e3eb")
seg([16, 36], [667, 667], lw=0.8)
seg([22, 23, 29, 30], [667, 684, 684, 667], lw=0.8)
seg([23, 24, 28, 29], [667, 664, 664, 667], lw=0.8)
box(9, 1025, 43, 1059, r=4, fc="#2e2e2e")
ang = np.linspace(np.pi / 2, 2.5 * np.pi, 11)
rad = np.array([8, 3.4] * 5 + [8])
ov.add_patch(Polygon(np.c_[26 + rad * np.cos(ang), 1041 - rad * np.sin(ang)], closed=True, fc="none", ec="white", lw=0.9))

# right sidebar
seg([1049, 1067, 1067, 1058, 1049, 1049], [56, 56, 77, 72, 77, 56])
for yy in (61, 65, 69):
    seg([1052, 1064], [yy, yy], lw=0.7)
circ(1058, 112, 10)
seg([1058, 1058, 1053], [106, 113, 113])
seg([1047, 1051], [101, 98])
seg([1065, 1069], [98, 101])
ov.add_patch(Polygon([(1058, 155), (1070, 163), (1058, 170), (1046, 163)], closed=True, fc="white", ec=INK, lw=0.9))
ov.add_patch(Polygon([(1058, 149), (1070, 157), (1058, 164), (1046, 157)], closed=True, fc="white", ec=INK, lw=0.9))
seg([1046, 1070, 1070, 1058, 1053, 1053, 1046, 1046], [194, 194, 213, 213, 218, 213, 213, 194])
circ(1068, 192, 7.5, fc="#f23645", ec="none")
t(1068, 192, "1", 7, "white", "center")
circ(1058, 772, 13.5)
circ(1058, 772, 8)
circ(1058, 772, 1.8, fc=INK)
seg([1058, 1067], [772, 763])
ov.add_patch(Polygon([(1046, 828), (1054, 814), (1062, 814), (1070, 828)], closed=True, fc="white", ec=INK, lw=0.9))
ov.add_patch(Polygon([(1047, 814), (1058, 804), (1069, 814), (1058, 822)], closed=True, fc="white", ec=INK, lw=0.9))
box(1046, 851, 1070, 873, r=2, ec=INK, lw=0.9)
for x in (1051, 1064):
    box(x - 1, 847, x + 3, 855, r=1, ec=INK)
for r_ in (6, 11, 16):
    ov.add_patch(Arc((1049, 917), 2 * r_, 2 * r_, theta1=270, theta2=360, ec=INK, lw=0.9))
circ(1049, 916, 1.6, ec=INK)
box(1047, 888, 1076, 902, r=7, fc="#f23645")
t(1061.5, 895, "99+", 7.8, "white", "center")
seg([1047, 1047, 1052, 1064, 1069, 1069, 1047], [964, 959, 945, 945, 959, 964, 964])
ov.add_patch(Arc((1058, 965), 6, 6, theta1=0, theta2=180, ec=INK, lw=0.9))
box(1054, 934, 1076, 950, r=8, fc="#f23645")
t(1065, 942, "60", 7.8, "white", "center")
circ(1058, 998, 17, fc="#2e2e2e", ec="none")
for dx in (-6, 0, 6):
    for dy in (-6, 0, 6):
        box(1058 + dx - 1.6, 998 + dy - 1.6, 1058 + dx + 1.6, 998 + dy + 1.6, r=0.5, fc="white")
seg([1041, 1074], [1027, 1027], color="#e0e3eb")
circ(1058, 1056, 13.5)
t(1058, 1056, "?", 11, ha="center")

# bottom bar
for x, s in zip((79, 109, 140, 172, 204, 239, 272, 300), ("1D", "5D", "1M", "3M", "6M", "YTD", "1Y", "All")):
    t(x, 1061, s, 9.6, ha="center")
seg([322, 322], [1050, 1072], color="#e0e3eb")
box(334, 1053, 351, 1070, r=1.5, ec=INK)
seg([334, 351], [1057, 1057], lw=0.8)
seg([341, 348], [1063, 1063], lw=0.8)
seg([345, 348, 345], [1060, 1063, 1066], lw=0.8)
t(975, 1061, "13:13:01 UTC+8", 9.9, ha="right")
seg([984, 984], [1050, 1072], color="#e0e3eb")
t(1007, 1061, "ADJ", 9.6, ha="center")
ang6 = np.arange(6) * np.pi / 3
ov.add_patch(Polygon(np.c_[1000 + 8 * np.cos(ang6), 1027 + 8 * np.sin(ang6)], closed=True, fc="white", ec=INK, lw=0.8))
circ(1000, 1027, 2.5, lw=0.8)

fig.savefig("out.png", dpi=100, facecolor=fig.get_facecolor())
